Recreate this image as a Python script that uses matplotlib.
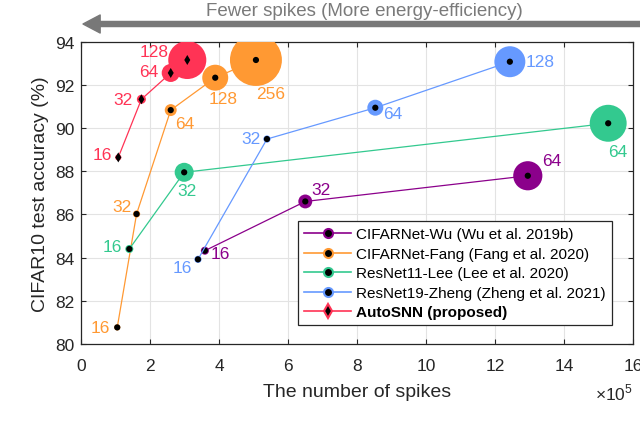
import matplotlib
matplotlib.use("Agg")
import matplotlib.pyplot as plt
from matplotlib.lines import Line2D

plt.rcParams['font.family'] = ['Liberation Sans', 'DejaVu Sans']
plt.rcParams['mathtext.fontset'] = 'custom'
plt.rcParams['mathtext.rm'] = 'Liberation Sans'

# data (x in units of 1e5 spikes, y = CIFAR10 accuracy %)
wu_x = [3.59, 6.50, 12.95]
wu_y = [84.32, 86.60, 87.79]
wu_c = ['16', '32', '64']

fang_x = [1.05, 1.61, 2.60, 3.89, 5.07]
fang_y = [80.77, 86.02, 90.83, 92.33, 93.15]
fang_c = ['16', '32', '64', '128', '256']

lee_x = [1.40, 2.99, 15.28]
lee_y = [84.40, 87.95, 90.22]
lee_c = ['16', '32', '64']

zheng_x = [3.39, 5.39, 8.53, 12.43]
zheng_y = [83.92, 89.49, 90.94, 93.07]
zheng_c = ['16', '32', '64', '128']

auto_x = [1.08, 1.75, 2.60, 3.08]
auto_y = [88.64, 91.33, 92.55, 93.15]
auto_c = ['16', '32', '64', '128']

names = ['CIFARNet-Wu (Wu et al. 2019b)', 'CIFARNet-Fang (Fang et al. 2020)',
         'ResNet11-Lee (Lee et al. 2020)', 'ResNet19-Zheng (Zheng et al. 2021)',
         'AutoSNN (proposed)']

# styling: colours, bubble diameters (pt), label offsets (px, ha)
colors = ['#8b008b', '#ff9933', '#33c98f', '#6699ff', '#ff3355']
bubble = [[5.8, 10, 21],
          [4.5, 5.2, 8.6, 18.7, 37.4],
          [5.8, 13.7, 26.6],
          [5.2, 5.2, 11.5, 22.3],
          [4.5, 6.5, 13, 27.4]]
offs = [[(6, -3, 'left'), (6, 12, 'left'), (14, 15, 'left')],
        [(-7, 0, 'right'), (-5, 7, 'right'), (4, -13, 'left'), (8, -21, 'center'), (0, -34, 'left')],
        [(-7, 2, 'right'), (3, -18, 'center'), (0, -28, 'left')],
        [(-6, -8, 'right'), (-6, 1, 'right'), (8, -6, 'left'), (16, 0, 'left')],
        [(-6, 3, 'right'), (-9, 0, 'right'), (-12, 1, 'right'), (-19, 8, 'right')]]

series = [(wu_x, wu_y, wu_c), (fang_x, fang_y, fang_c), (lee_x, lee_y, lee_c),
          (zheng_x, zheng_y, zheng_c), (auto_x, auto_y, auto_c)]

fig = plt.figure(figsize=(6.4, 4.31), dpi=100)
ax = fig.add_axes([0.1266, 0.1995, 0.8625, 0.7016])

handles = []
for i, (xs, ys, cs) in enumerate(series):
    col = colors[i]
    inner = 'd' if i == 4 else 'o'
    ax.plot(xs, ys, '-', color=col, lw=0.9, zorder=2 + i)
    ax.scatter(xs, ys, s=[b ** 2 for b in bubble[i]], color=col, edgecolors='none', zorder=3 + i)
    ax.scatter(xs, ys, s=26 if i == 4 else 20, marker=inner, color='k', edgecolors='none', zorder=3.5 + i)
    for x, y, c, (dx, dy, ha) in zip(xs, ys, cs, offs[i]):
        ax.annotate(c, (x, y), xytext=(dx, dy), textcoords='offset pixels',
                    ha=ha, va='center', color=col, fontsize=12.5, zorder=10)
    handles.append(Line2D([], [], color=col, lw=1.2, marker=inner, markersize=7 if i == 4 else 6.5,
                          markerfacecolor='k', markeredgecolor=col, markeredgewidth=1.5))

ax.set_xlim(0, 16)
ax.set_ylim(80, 94)
ax.set_xticks(range(0, 17, 2))
ax.set_yticks(range(80, 95, 2))
ax.grid(True, color='#e3e3e3', lw=0.8)
ax.set_axisbelow(True)
ax.tick_params(direction='in', length=3.5, top=True, right=True, labelsize=12.5,
               colors='#262626', width=0.8)
ax.tick_params(axis='x', pad=10)
ax.tick_params(axis='y', pad=5)
for sp in ax.spines.values():
    sp.set_color('#262626')
    sp.set_linewidth(0.9)

ax.set_xlabel('The number of spikes', fontsize=14, color='#262626', labelpad=7)
ax.set_ylabel('CIFAR10 test accuracy (%)', fontsize=14, color='#262626', labelpad=4)
ax.text(1.0, -0.16, r'$\times10^{5}$', transform=ax.transAxes, ha='right', va='center',
        fontsize=12.5, color='#262626')

leg = ax.legend(handles, names, loc='lower right', bbox_to_anchor=(0.975, 0.036),
                fontsize=11, handlelength=3.1, labelspacing=0.36, borderpad=0.4,
                handletextpad=0.3, fancybox=False, framealpha=1)
leg.get_frame().set_edgecolor('#262626')
leg.get_frame().set_linewidth(0.9)
leg.get_texts()[-1].set_fontweight('bold')

# energy-efficiency arrow on top
ax.annotate('', xy=(83, 431 - 25), xytext=(645, 431 - 25), xycoords='figure pixels',
            textcoords='figure pixels',
            arrowprops=dict(arrowstyle='simple,head_length=0.95,head_width=1.0,tail_width=0.28',
                            mutation_scale=13, color='#787878', shrinkA=0, shrinkB=0),
            annotation_clip=False)
fig.text(364 / 640, 1 - 11 / 431, 'Fewer spikes (More energy-efficiency)', ha='center', va='center',
         fontsize=13.5, color='#7a7a7a')

fig.savefig('out.png', dpi=100)
